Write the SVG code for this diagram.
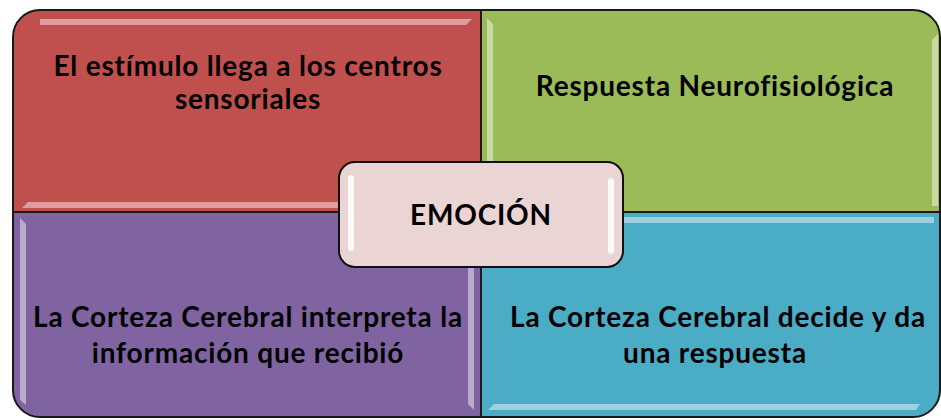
<svg xmlns="http://www.w3.org/2000/svg" width="941" height="420" viewBox="0 0 941 420">
<defs>
<style>
.q{stroke:#1a1a1a;stroke-width:2}
.t{font-family:Lato,"Open Sans","Liberation Sans",sans-serif;font-weight:bold;font-size:28px;letter-spacing:0.8px;fill:#000;text-anchor:middle}
.hl{fill:#ffffff;opacity:0.45}
</style>
</defs>
<rect width="941" height="420" fill="#ffffff"/>
<g id="q-red">
<path class="q" fill="#C0504D" d="M13,212 V37 A27,27 0 0 1 40,10 H481 V212 Z"/>
<polygon class="hl" points="40,19 472,19 466,25 40,25"/>
<polygon class="hl" points="22,208 28,202 472,202 472,208"/>
<text class="t" x="248" y="76">El estímulo llega a los centros</text>
<text class="t" x="248" y="109">sensoriales</text>
</g>
<g id="q-green">
<path class="q" fill="#9BBB59" d="M481,10 H913 A27,27 0 0 1 940,37 V212 H481 Z"/>
<polygon class="hl" points="487,18 493,24 493,206 487,206"/>
<polygon class="hl" points="932,40 938,34 938,206 932,206"/>
<text class="t" x="715" y="96">Respuesta Neurofisiológica</text>
</g>
<g id="q-purple">
<path class="q" fill="#8064A2" d="M13,212 H481 V417 H40 A27,27 0 0 1 13,390 Z"/>
<polygon class="hl" points="20,218 26,224 26,405 20,400"/>
<polygon class="hl" points="468,218 474,218 474,410 468,404"/>
<text class="t" x="248" y="327">La Corteza Cerebral interpreta la</text>
<text class="t" x="248" y="363">información que recibió</text>
</g>
<g id="q-teal">
<path class="q" fill="#4BACC6" d="M481,212 H940 V390 A27,27 0 0 1 913,417 H481 Z"/>
<polygon class="hl" points="488,217 934,217 934,223 494,223"/>
<polygon class="hl" points="488,410 494,404 920,404 916,410"/>
<text class="t" x="718" y="327">La Corteza Cerebral decide y da</text>
<text class="t" x="715" y="363">una respuesta</text>
</g>
<g id="center">
<rect x="339" y="162" width="284" height="105" rx="16" fill="#EAD4D4" stroke="#111" stroke-width="2"/>
<rect x="348" y="175" width="6" height="76" rx="3" fill="#ffffff" opacity="0.85"/>
<rect x="608" y="178" width="6" height="76" rx="3" fill="#ffffff" opacity="0.85"/>
<text class="t" x="481" y="225">EMOCIÓN</text>
</g>
</svg>
